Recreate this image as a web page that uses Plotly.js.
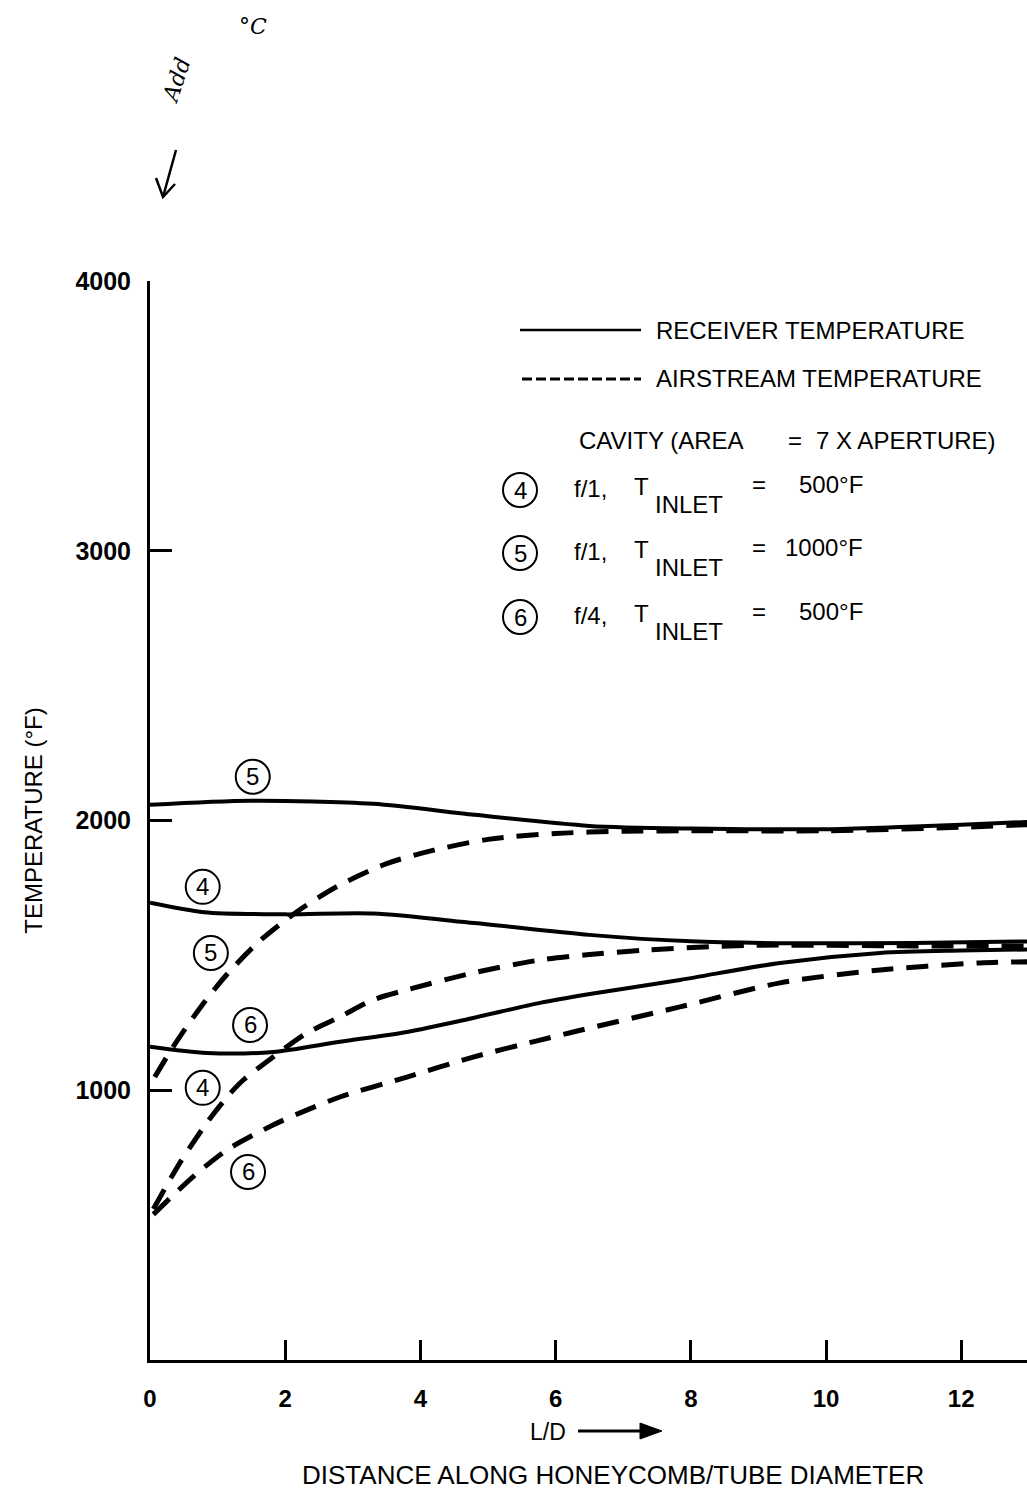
<!DOCTYPE html>
<html><head><meta charset="utf-8">
<script src="https://cdn.plot.ly/plotly-3.0.1.min.js"></script>
<style>html,body{margin:0;padding:0;background:#fff}#chart{width:1027px;height:1496px}</style>
</head><body><div id="chart"></div>
<script>
// Receiver (solid) temperatures, deg F, vs L/D
const x4r = [0, 0.8, 2.0, 3.3, 4.8, 6.5, 8.0, 9.5, 11.3, 13.0];
const y4r = [1695, 1660, 1652, 1655, 1620, 1576, 1552, 1545, 1546, 1552];
const x5r = [0, 1.5, 3.3, 4.8, 6.5, 8.0, 10.0, 11.0, 12.0, 13.0];
const y5r = [2058, 2073, 2062, 2021, 1980, 1970, 1968, 1975, 1984, 1995];
const x6r = [0, 0.84, 1.82, 2.81, 3.8, 4.78, 5.77, 6.46, 7.84, 9.32, 10.8, 12.0, 13.0];
const y6r = [1161, 1138, 1142, 1180, 1216, 1268, 1324, 1355, 1409, 1472, 1509, 1518, 1522];
// Airstream (dashed) temperatures
const x4a = [0.05, 0.44, 0.84, 1.14, 1.38, 1.82, 2.32, 2.81, 3.3, 3.8, 4.78, 5.77, 6.46, 7.35, 8.83, 11.3, 13.0];
const y4a = [560, 730, 879, 975, 1038, 1123, 1212, 1272, 1335, 1372, 1435, 1483, 1502, 1520, 1537, 1535, 1535];
const x5a = [0.07, 0.34, 0.74, 1.14, 1.63, 2.22, 2.8, 3.5, 4.2, 5.0, 6.0, 7.0, 8.0, 10.0, 12.0, 13.0];
const y5a = [1049, 1160, 1305, 1430, 1555, 1670, 1760, 1840, 1890, 1930, 1952, 1960, 1962, 1962, 1975, 1985];
const x6a = [0.05, 0.64, 1.14, 1.82, 2.22, 2.81, 3.8, 4.78, 5.77, 6.26, 7.84, 9.32, 10.8, 12.28, 13.0];
const y6a = [540, 680, 779, 871, 916, 975, 1049, 1123, 1186, 1216, 1309, 1398, 1446, 1472, 1476];

const xTicks = [0, 2, 4, 6, 8, 10, 12];
const yTicks = [1000, 2000, 3000, 4000];

// curve labels: [label, x, y]
const curveLabels = [
  ['5', 1.52, 2162], ['4', 0.78, 1754], ['5', 0.90, 1509],
  ['6', 1.48, 1242], ['4', 0.78, 1009], ['6', 1.45, 697]
];

const FONT = 'Liberation Sans, Arial, sans-serif';
const solid = {color: '#000', width: 4, shape: 'spline', smoothing: 0.8};
const dashed = {color: '#000', width: 5, shape: 'spline', smoothing: 0.8, dash: '22px,13px'};

const traces = [
  {x: x5r, y: y5r, mode: 'lines', line: solid, name: 'Receiver 5'},
  {x: x4r, y: y4r, mode: 'lines', line: solid, name: 'Receiver 4'},
  {x: x6r, y: y6r, mode: 'lines', line: solid, name: 'Receiver 6'},
  {x: x5a, y: y5a, mode: 'lines', line: dashed, name: 'Airstream 5'},
  {x: x4a, y: y4a, mode: 'lines', line: dashed, name: 'Airstream 4'},
  {x: x6a, y: y6a, mode: 'lines', line: dashed, name: 'Airstream 6'}
];

// pixel -> paper helpers for the page decorations
const L = 150, R = 1027, T = 281, B = 1360;
const PX = p => (p - L) / (R - L);
const PY = p => (B - p) / (B - T);

const shapes = [];
const annotations = [];

function circ(cx, cy, r, xref, yref) {
  shapes.push({type: 'circle', xref: xref, yref: yref, xsizemode: 'pixel', ysizemode: 'pixel',
    xanchor: cx, yanchor: cy, x0: -r, x1: r, y0: -r, y1: r, line: {color: '#000', width: 2}});
}
function txt(text, x, y, size, opts) {
  annotations.push(Object.assign({text: text, x: x, y: y, xref: 'paper', yref: 'paper', showarrow: false,
    font: {family: FONT, size: size, color: '#000'}, xanchor: 'left', yanchor: 'middle'}, opts || {}));
}
function pathPx(pts, close) {
  return 'M ' + pts.map(p => PX(p[0]) + ',' + PY(p[1])).join(' L ') + (close ? ' Z' : '');
}

// curve labels (circled numbers in data coordinates)
curveLabels.forEach(c => {
  circ(c[1], c[2], 17, 'x', 'y');
  annotations.push({text: c[0], x: c[1], y: c[2], xref: 'x', yref: 'y', showarrow: false,
    font: {family: FONT, size: 24, color: '#000'}, xanchor: 'center', yanchor: 'middle'});
});

// legend
shapes.push({type: 'line', xref: 'paper', yref: 'paper', x0: PX(520), x1: PX(641), y0: PY(330), y1: PY(330), line: {color: '#000', width: 2.5}});
shapes.push({type: 'line', xref: 'paper', yref: 'paper', x0: PX(522), x1: PX(641), y0: PY(379), y1: PY(379), line: {color: '#000', width: 3, dash: '10px,4px'}});
txt('RECEIVER TEMPERATURE', PX(654), PY(330), 24);
txt('AIRSTREAM TEMPERATURE', PX(654), PY(378), 24);
txt('CAVITY (AREA', PX(577), PY(440), 24);
txt('=', PX(786), PY(440), 24);
txt('7 X APERTURE)', PX(814), PY(440), 24);
const legRows = [['4', 'f/1,', '500', 490, 797], ['5', 'f/1,', '1000', 553, 783], ['6', 'f/4,', '500', 617, 797]];
legRows.forEach(r => {
  circ(PX(520), PY(r[3]), 17, 'paper', 'paper');
  txt(r[0], PX(520), PY(r[3]), 24, {xanchor: 'center'});
  txt(r[1], PX(572), PY(r[3] - 2), 24);
  txt('T', PX(632), PY(r[3] - 4), 24);
  txt('INLET', PX(653), PY(r[3] + 14), 24);
  txt('=', PX(750), PY(r[3] - 6), 24);
  txt(r[2] + '°F', PX(r[4]), PY(r[3] - 6), 24);
});

// x axis captions
txt('L/D', PX(548), PY(1432), 23, {xanchor: 'center'});
shapes.push({type: 'line', xref: 'paper', yref: 'paper', x0: PX(578), x1: PX(645), y0: PY(1431), y1: PY(1431), line: {color: '#000', width: 3}});
shapes.push({type: 'path', xref: 'paper', yref: 'paper', path: pathPx([[640, 1423], [662, 1431], [640, 1439]], true),
  fillcolor: '#000', line: {color: '#000', width: 1}});
txt('DISTANCE ALONG HONEYCOMB/TUBE DIAMETER', PX(613), PY(1475), 26, {xanchor: 'center'});

// handwritten note
txt('Add', PX(176), PY(80), 22, {xanchor: 'center', textangle: -72, font: {family: 'DejaVu Serif, serif', size: 22, color: '#000', style: 'italic'}});
txt('°C', PX(253), PY(26), 22, {xanchor: 'center', font: {family: 'DejaVu Serif, serif', size: 22, color: '#000', style: 'italic'}});
shapes.push({type: 'path', xref: 'paper', yref: 'paper', path: pathPx([[176, 150], [163, 197]], false), line: {color: '#000', width: 2.5}});
shapes.push({type: 'path', xref: 'paper', yref: 'paper', path: pathPx([[156, 178], [163, 197], [175, 184]], false), line: {color: '#000', width: 2.5}});

const layout = {
  width: 1027, height: 1496,
  margin: {l: L, r: 1027 - R, t: T, b: 1496 - B, pad: 0},
  paper_bgcolor: '#fff', plot_bgcolor: '#fff',
  showlegend: false,
  font: {family: FONT, color: '#000'},
  xaxis: {range: [0, (R - L) / 67.6], tickvals: xTicks, ticktext: xTicks.map(String),
    ticks: 'inside', ticklen: 20, tickwidth: 3, tickcolor: '#000',
    showline: true, linecolor: '#000', linewidth: 3, showgrid: false, zeroline: false,
    tickfont: {family: FONT, size: 24, weight: 'bold', color: '#000'}, ticklabelstandoff: 15},
  yaxis: {range: [0, 4000], tickvals: yTicks, ticktext: yTicks.map(String),
    ticks: 'inside', ticklen: 22, tickwidth: 3, tickcolor: '#000',
    showline: true, linecolor: '#000', linewidth: 3, showgrid: false, zeroline: false,
    tickfont: {family: FONT, size: 25, weight: 'bold', color: '#000'}, ticklabelstandoff: 11,
    title: {text: 'TEMPERATURE (°F)', font: {family: FONT, size: 24, color: '#000'}, standoff: 26}},
  shapes: shapes,
  annotations: annotations
};

Plotly.newPlot('chart', traces, layout, {displayModeBar: false, staticPlot: true});
</script></body></html>
